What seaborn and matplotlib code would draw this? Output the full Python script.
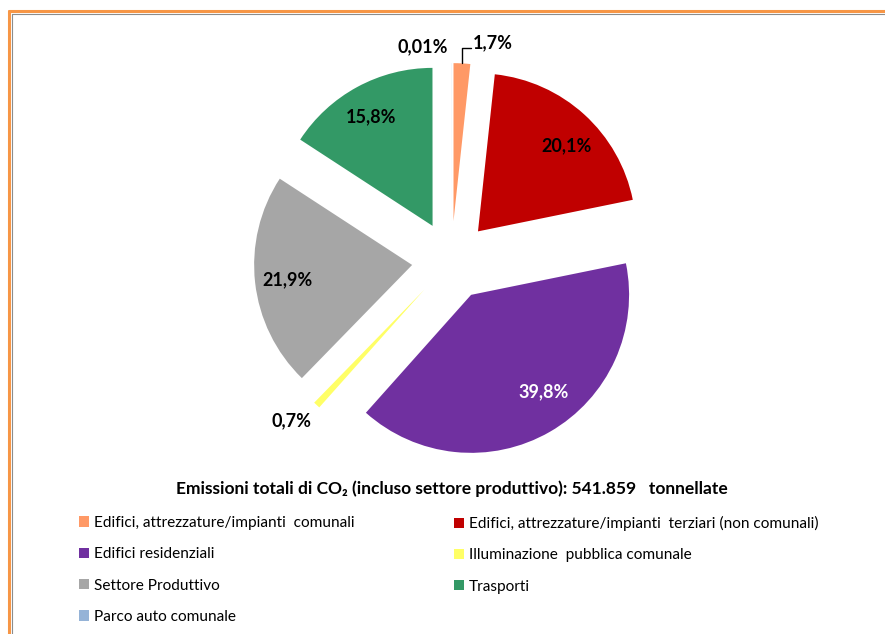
import matplotlib
matplotlib.use("Agg")
import matplotlib.pyplot as plt
import seaborn as sns
import numpy as np
from matplotlib.patches import Patch
from matplotlib.lines import Line2D

categories = [
    "Edifici, attrezzature/impianti  comunali",
    "Edifici, attrezzature/impianti  terziari (non comunali)",
    "Edifici residenziali",
    "Illuminazione  pubblica comunale",
    "Settore Produttivo",
    "Trasporti",
    "Parco auto comunale",
]
values = [1.7, 20.1, 39.8, 0.7, 21.9, 15.8, 0.01]
pct_labels = ["1,7%", "20,1%", "39,8%", "0,7%", "21,9%", "15,8%", "0,01%"]
colors = ["#FF9966", "#C00000", "#7030A0", "#FFFF66", "#A6A6A6", "#339966", "#95B3D7"]
title_text = "Emissioni totali di CO\u2082 (incluso settore produttivo): 541.859   tonnellate"

sns.set_theme(style="white")
plt.rcParams["font.family"] = ["Lato", "DejaVu Sans"]

W, H = 885, 634
fig = plt.figure(figsize=(W / 100, H / 100), dpi=100)
fig.patch.set_facecolor("white")

# pie geometry (pixels)
cx, cy, R = 451.4, 260.6, 158.0
half = 1.4 * R
ax = fig.add_axes([(cx - half) / W, (H - cy - half) / H, 2 * half / W, 2 * half / H])

wedges, texts, autotexts = ax.pie(
    values, colors=colors, startangle=90, counterclock=False,
    explode=[0.25] * len(values), radius=1.0,
    autopct="%1.1f%%", pctdistance=0.79,
    wedgeprops=dict(linewidth=0),
    textprops=dict(fontsize=13, fontweight="bold", color="black"),
)
ax.set_xlim(-1.4, 1.4)
ax.set_ylim(-1.4, 1.4)
ax.set_aspect("equal")
ax.axis("off")


def px2data(px, py):
    return ((px - cx) / R, (cy - py) / R)

# label anchor positions in pixels (x, baseline y, horizontal alignment)
label_layout = [
    (473.0, 48.5, "left"),     # 1,7%
    (566.3, 151.0, "center"),  # 20,1%
    (543.3, 397.7, "center"),  # 39,8%
    (292.0, 426.7, "center"),  # 0,7%
    (287.2, 285.0, "center"),  # 21,9%
    (371.2, 122.3, "center"),  # 15,8%
    (448.0, 52.5, "right"),    # 0,01%
]
for i, t in enumerate(autotexts):
    t.set_text(pct_labels[i])
    px, py, ha = label_layout[i]
    t.set_position(px2data(px, py))
    t.set_ha(ha)
    t.set_va("baseline")
autotexts[2].set_color("white")

# leader line for the small orange slice
w = wedges[0]
a = np.deg2rad((w.theta1 + w.theta2) / 2)
p0 = np.array(w.center) + np.array([np.cos(a), np.sin(a)])
lx_end, ly = px2data(470.7, 48.3)
ax.plot([p0[0], p0[0], lx_end], [p0[1], ly, ly], color="black", lw=1.0, clip_on=False)

# title of legend block
fig.text(452 / W, 1 - 489 / H, title_text, ha="center", va="center",
         fontsize=12.5, fontweight="bold", color="black")

handles = [Patch(facecolor=c, edgecolor="none") for c in colors]
left_idx = [0, 2, 4, 6]
right_idx = [1, 3, 5]
common = dict(frameon=False, fontsize=11.1, handlelength=0.65, handleheight=0.65,
              handletextpad=0.3, labelspacing=1.12, borderpad=0, borderaxespad=0,
              loc="upper left")
leg1 = fig.legend([handles[i] for i in left_idx], [categories[i] for i in left_idx],
                  bbox_to_anchor=(79 / W, 1 - 516 / H), **common)
leg2 = fig.legend([handles[i] for i in right_idx], [categories[i] for i in right_idx],
                  bbox_to_anchor=(454 / W, 1 - 516 / H), **common)
for lg in (leg1, leg2):
    for t in lg.get_texts():
        t.set_color("black")

# frame lines
fig.add_artist(Line2D([8.5 / W, 8.5 / W], [0, 1 - 10.5 / H], transform=fig.transFigure,
                      color="#F79646", lw=2.2))
fig.add_artist(Line2D([8.5 / W, 1], [1 - 10.5 / H, 1 - 10.5 / H], transform=fig.transFigure,
                      color="#F79646", lw=2.2))
fig.add_artist(Line2D([11.5 / W, 11.5 / W], [0, 1 - 13.5 / H], transform=fig.transFigure,
                      color="#8C8C8C", lw=0.8))
fig.add_artist(Line2D([11.5 / W, 1], [1 - 13.5 / H, 1 - 13.5 / H], transform=fig.transFigure,
                      color="#8C8C8C", lw=0.8))

fig.savefig("out.png", dpi=100, facecolor="white")
